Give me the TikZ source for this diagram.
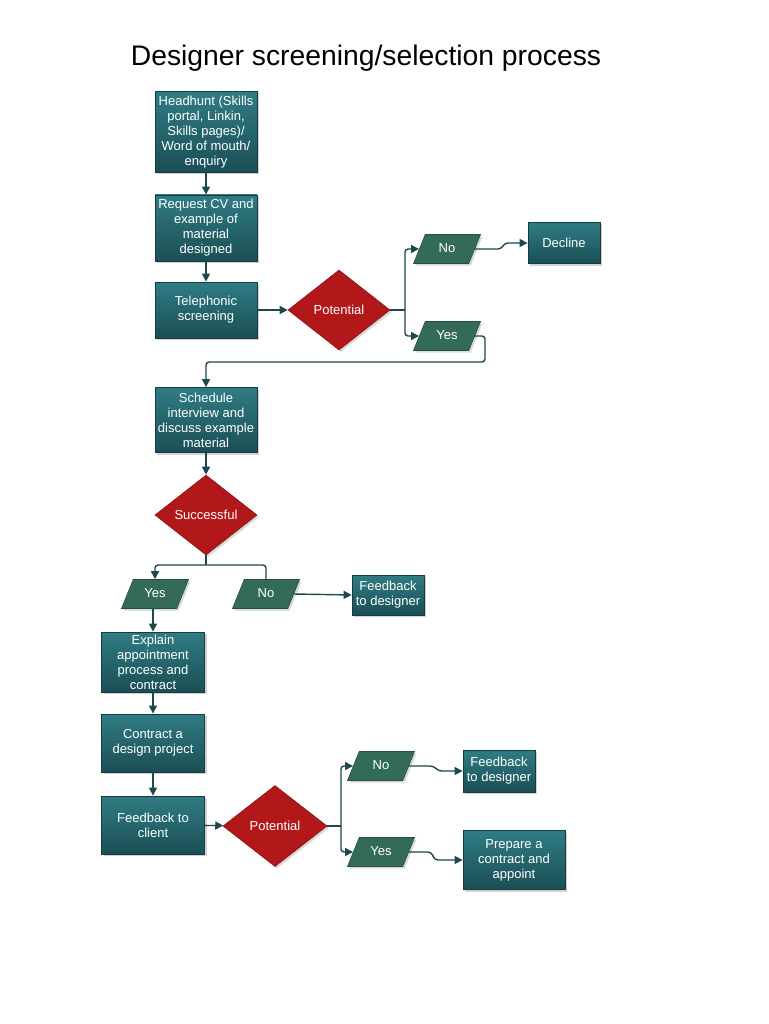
\documentclass[tikz,border=0pt]{standalone}
\usepackage{fontspec}
\setmainfont{Liberation Sans}
\usetikzlibrary{shapes.geometric,shadows,arrows.meta}

\definecolor{boxtop}{RGB}{48,124,132}
\definecolor{boxbot}{RGB}{27,78,85}
\definecolor{boxline}{RGB}{22,60,66}
\definecolor{ansfill}{RGB}{52,106,90}
\definecolor{ansline}{RGB}{36,80,68}
\definecolor{decred}{RGB}{178,24,26}
\definecolor{decline}{RGB}{140,16,18}
\definecolor{linkcol}{RGB}{30,72,78}

\tikzset{
  procbox/.style={draw=boxline, line width=0.8pt, top color=boxtop, bottom color=boxbot,
    text=white, align=center, inner sep=1pt, font=\fontsize{13}{15}\selectfont,
    drop shadow={shadow xshift=2pt, shadow yshift=-2pt, opacity=0.35}},
  decbox/.style={diamond, draw=decline, line width=0.6pt, fill=decred, text=white,
    inner sep=0pt, minimum width=102pt, minimum height=80pt, font=\fontsize{13}{15}\selectfont,
    drop shadow={shadow xshift=2pt, shadow yshift=-2pt, opacity=0.3}},
  ansbox/.style={trapezium, trapezium left angle=68, trapezium right angle=112,
    trapezium stretches body, draw=ansline, line width=0.6pt, fill=ansfill, text=white,
    text height=9pt, text depth=3pt, inner xsep=2pt, inner ysep=8.5pt,
    minimum width=67pt, font=\fontsize{13}{15}\selectfont,
    drop shadow={shadow xshift=2pt, shadow yshift=-2pt, opacity=0.3}},
  link/.style={draw=linkcol, line width=1.4pt, rounded corners=3pt,
    -{Triangle[length=8pt,width=8pt]}},
  plainlink/.style={draw=linkcol, line width=1.4pt, rounded corners=3pt}
}

\begin{document}
\begin{tikzpicture}[x=1pt,y=-1pt]
  \useasboundingbox[fill=white] (0,0) rectangle (768,1024);

  % title
  \node[font=\fontsize{28.3}{32}\selectfont] (title) at (366,58) {Designer screening/selection process};

  % first column
  \node[procbox, minimum width=102pt, minimum height=81pt] (head) at (206,132)
    {Headhunt (Skills\\portal, Linkin,\\Skills pages)/\\Word of mouth/\\enquiry};
  \node[procbox, minimum width=102pt, minimum height=66pt] (req) at (206,228)
    {Request CV and\\example of\\material\\designed};
  \node[procbox, minimum width=102pt, minimum height=56pt] (tel) at (206,310)
    {Telephonic\\screening};
  \node[decbox] (pot1) at (339,310) {Potential};
  \node[ansbox] (no1) at (447,249) {No};
  \node[ansbox] (yes1) at (447,336) {Yes};
  \node[procbox, minimum width=72pt, minimum height=41pt] (decl) at (564,243) {Decline};

  \draw[link] (head) -- (req);
  \draw[link] (req) -- (tel);
  \draw[link] (tel) -- (pot1);
  \coordinate (s1) at (405,310);
  \draw[plainlink] (pot1.east) -- (s1);
  \draw[link] (s1) |- (no1);
  \draw[link] (s1) |- (yes1);
  \draw[link] (no1.east) -- ++(26,0) -- ++(4,-6) -- (decl.west);

  % back to the interview
  \node[procbox, minimum width=102pt, minimum height=65pt] (sched) at (206,420)
    {Schedule\\interview and\\discuss example\\material};
  \coordinate (c1) at (485,362);
  \draw[link] (yes1.east) -| (c1) -| (sched.north);

  \node[decbox] (succ) at (206,515) {Successful};
  \draw[link] (sched) -- (succ);

  \node[ansbox] (yes2) at (155,594) {Yes};
  \node[ansbox] (no2) at (266,594) {No};
  \node[procbox, minimum width=72pt, minimum height=40pt] (fb1) at (388,595)
    {Feedback\\to designer};
  \coordinate (s2) at (206,565);
  \draw[plainlink] (succ.south) -- (s2);
  \draw[link] (s2) -| (yes2.north);
  \draw[plainlink] (s2) -| (no2.north);
  \draw[link] (no2.east) -- (fb1.west);

  % appointment column
  \node[procbox, minimum width=103pt, minimum height=60pt] (expl) at (153,662)
    {Explain\\appointment\\process and\\contract};
  \node[procbox, minimum width=103pt, minimum height=58pt] (contr) at (153,743)
    {Contract a\\design project};
  \node[procbox, minimum width=103pt, minimum height=58pt] (fbc) at (153,825)
    {Feedback to\\client};
  \draw[link] (yes2.south -| expl.north) -- (expl.north);
  \draw[link] (expl) -- (contr);
  \draw[link] (contr) -- (fbc);

  \node[decbox, minimum width=104pt, minimum height=81pt] (pot2) at (275,826) {Potential};
  \draw[link] (fbc) -- (pot2);
  \node[ansbox] (no3) at (381,766) {No};
  \node[ansbox] (yes3) at (381,852) {Yes};
  \node[procbox, minimum width=72pt, minimum height=42pt] (fb2) at (499,771)
    {Feedback\\to designer};
  \node[procbox, minimum width=102pt, minimum height=59pt] (prep) at (514,860)
    {Prepare a\\contract and\\appoint};
  \coordinate (s3) at (341,826);
  \draw[plainlink] (pot2.east) -- (s3);
  \draw[link] (s3) |- (no3);
  \draw[link] (s3) |- (yes3);
  \draw[link] (no3.east) -- ++(24,0) -- ++(6,5) -- (fb2.west);
  \draw[link] (yes3.east) -- ++(22,0) -- ++(4,8) -- (prep.west);
\end{tikzpicture}
\end{document}
